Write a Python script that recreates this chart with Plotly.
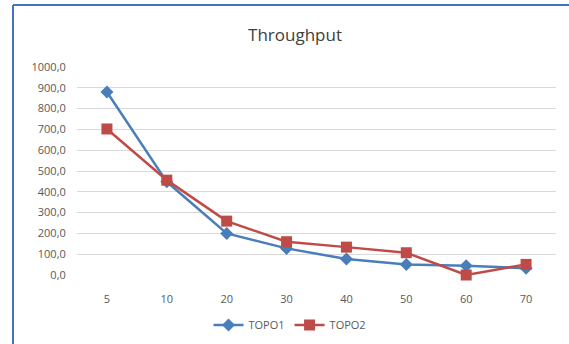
import plotly.graph_objects as go

categories = ["5", "10", "20", "30", "40", "50", "60", "70"]
topo1 = [880, 448, 200, 128, 77, 51, 45, 32]
topo2 = [702, 456, 259, 160, 134, 107, 0, 51]
y_ticks = [0, 100, 200, 300, 400, 500, 600, 700, 800, 900, 1000]
y_labels = ["%d,0" % v for v in y_ticks]

W, H = 569, 344
L, R, T, B = 77, 13, 67, 69
pw, ph = W - L - R, H - T - B

fig = go.Figure()
fig.add_trace(go.Scatter(x=categories, y=topo1, name="TOPO1", mode="lines+markers",
                         line=dict(color="#4A7EBB", width=2.5),
                         marker=dict(symbol="diamond", size=10, color="#4A7EBB"),
                         cliponaxis=False))
fig.add_trace(go.Scatter(x=categories, y=topo2, name="TOPO2", mode="lines+markers",
                         line=dict(color="#BE4B48", width=2.5),
                         marker=dict(symbol="square", size=11, color="#BE4B48"),
                         cliponaxis=False))

def px2x(p):
    return (p - L) / pw

def py2y(p):
    return (H - B - p) / ph

fig.update_layout(
    width=W, height=H,
    margin=dict(l=L, r=R, t=T, b=B, autoexpand=False),
    paper_bgcolor="white", plot_bgcolor="white",
    font=dict(family="Open Sans, Liberation Sans, sans-serif", color="#595959", size=11),
    title=dict(text="Throughput", x=px2x(295), xref="paper", xanchor="center",
               y=1 - 35 / H, yanchor="middle",
               font=dict(size=17, color="#404040")),
    xaxis=dict(type="category", range=[-0.5, 7.5], showgrid=False, zeroline=False,
               showline=False, ticks="outside", ticklen=14, tickcolor="rgba(0,0,0,0)",
               tickfont=dict(size=11, color="#595959")),
    yaxis=dict(range=[0, 1000], tickvals=y_ticks, ticktext=y_labels,
               showgrid=True, gridcolor="#D9D9D9", gridwidth=1, zeroline=False,
               showline=False, ticks="outside", ticklen=8, tickcolor="rgba(0,0,0,0)",
               tickfont=dict(size=11, color="#595959")),
    legend=dict(orientation="h", x=px2x(290), xanchor="center",
                y=py2y(325), yanchor="middle",
                font=dict(size=11, color="#595959"), bgcolor="rgba(0,0,0,0)"),
    showlegend=True,
    shapes=[
        dict(type="line", xref="paper", yref="paper",
             x0=px2x(13), x1=px2x(13), y0=py2y(5), y1=py2y(344),
             line=dict(color="#4472C4", width=2)),
        dict(type="line", xref="paper", yref="paper",
             x0=px2x(13), x1=px2x(569), y0=py2y(5), y1=py2y(5),
             line=dict(color="#4472C4", width=2)),
    ],
)

fig.write_html("out.html")
